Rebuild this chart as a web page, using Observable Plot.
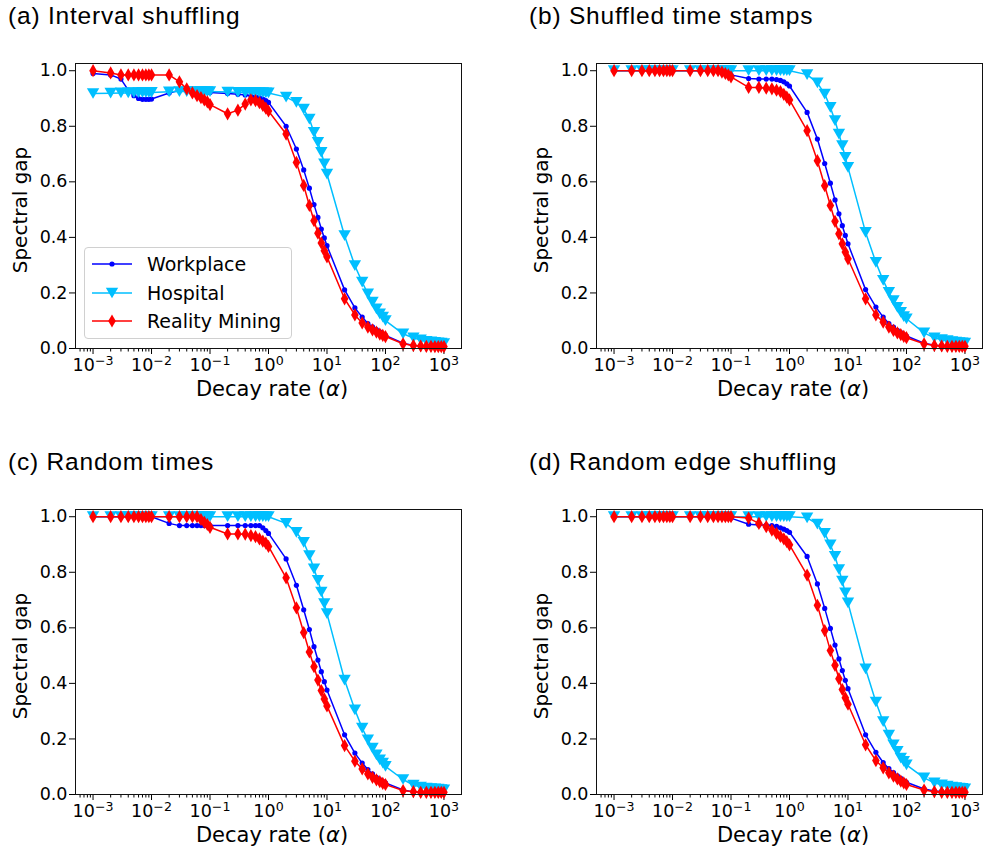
<!DOCTYPE html>
<html>
<head>
<meta charset="utf-8">
<script src="https://cdn.jsdelivr.net/npm/d3@7"></script>
<script src="https://cdn.jsdelivr.net/npm/@observablehq/plot@0.6"></script>
<style>
  html, body { margin: 0; padding: 0; background: #fff; }
  #fig { position: relative; width: 988px; height: 855px; overflow: hidden; background: #fff; }
  .panel { position: absolute; }
  .panel svg { max-width: none !important; }
  .title { position: absolute; font-family: "Liberation Sans", Arial, sans-serif; font-size: 24.5px; letter-spacing: 0.8px; line-height: 24px; white-space: nowrap; color: #000; }
  .xlab { position: absolute; font-family: "DejaVu Sans", sans-serif; font-size: 21px; line-height: 1; white-space: nowrap; transform: translateX(-50%); color: #000; }
  .ylab { position: absolute; font-family: "DejaVu Sans", sans-serif; font-size: 20px; line-height: 1; white-space: nowrap; transform: translate(-50%, -50%) rotate(-90deg); color: #000; }
  .legend { position: absolute; border: 1px solid #d0d0d0; border-radius: 4px; background: rgba(255,255,255,0.85); font-family: "DejaVu Sans", sans-serif; font-size: 19px; color: #000; box-sizing: border-box; }
  .legend .row { position: absolute; left: 0; height: 20px; display: flex; align-items: center; white-space: nowrap; }
  .legend .row svg { margin-left: 7px; margin-right: 15px; }
</style>
</head>
<body>
<div id="fig"></div>
<script>
// ---------- data ----------
const alpha = [
  0.001, 0.002, 0.003, 0.004, 0.005, 0.006, 0.007, 0.008, 0.009,
  0.01, 0.02, 0.03, 0.04, 0.05, 0.06, 0.07, 0.08, 0.09,
  0.1, 0.2, 0.3, 0.4, 0.5, 0.6, 0.7, 0.8, 0.9,
  1, 2, 3, 4, 5, 6, 7, 8, 9,
  10, 20, 30, 40, 50, 60, 70, 80, 90,
  100, 200, 300, 400, 500, 600, 700, 800, 900,
  1000
];

const seriesNames = ["Workplace", "Hospital", "Reality Mining"];
const seriesColors = ["#0000ff", "#00bfff", "#ff0000"];

const panelTitles = ["(a) Interval shuffling", "(b) Shuffled time stamps", "(c) Random times", "(d) Random edge shuffling"];

// (a) Interval shuffling
const workplaceA = [
  0.990, 0.985, 0.970, 0.930, 0.910, 0.900, 0.897, 0.897, 0.897,
  0.898, 0.920, 0.930, 0.930, 0.929, 0.928, 0.927, 0.926, 0.924,
  0.922, 0.918, 0.915, 0.913, 0.910, 0.907, 0.903, 0.898, 0.892,
  0.886, 0.800, 0.718, 0.643, 0.577, 0.518, 0.472, 0.430, 0.398,
  0.370, 0.211, 0.146, 0.113, 0.090, 0.078, 0.068, 0.060, 0.053,
  0.047, 0.019, 0.011, 0.009, 0.008, 0.008, 0.007, 0.007, 0.007,
  0.007
];
const hospitalA = [
  0.918, 0.919, 0.920, 0.920, 0.921, 0.921, 0.922, 0.922, 0.922,
  0.922, 0.924, 0.925, 0.925, 0.925, 0.925, 0.925, 0.925, 0.925,
  0.925, 0.923, 0.922, 0.922, 0.922, 0.922, 0.921, 0.921, 0.920,
  0.920, 0.905, 0.886, 0.862, 0.826, 0.778, 0.742, 0.706, 0.665,
  0.628, 0.406, 0.298, 0.239, 0.197, 0.167, 0.143, 0.125, 0.113,
  0.100, 0.053, 0.038, 0.031, 0.026, 0.024, 0.022, 0.020, 0.019,
  0.018
];
const realityA = [
  1.000, 0.992, 0.985, 0.985, 0.985, 0.985, 0.985, 0.985, 0.985,
  0.985, 0.985, 0.960, 0.935, 0.920, 0.910, 0.903, 0.895, 0.888,
  0.878, 0.845, 0.858, 0.880, 0.895, 0.892, 0.885, 0.875, 0.865,
  0.855, 0.772, 0.670, 0.587, 0.515, 0.460, 0.415, 0.380, 0.352,
  0.330, 0.179, 0.121, 0.092, 0.077, 0.067, 0.059, 0.052, 0.047,
  0.043, 0.017, 0.011, 0.009, 0.008, 0.008, 0.007, 0.007, 0.007,
  0.007
];

// (b) Shuffled time stamps
const workplaceB = [
  1.000, 1.000, 1.000, 1.000, 1.000, 1.000, 1.000, 1.000, 1.000,
  1.000, 1.000, 1.000, 1.000, 1.000, 1.000, 0.998, 0.995, 0.990,
  0.985, 0.972, 0.970, 0.970, 0.970, 0.968, 0.965, 0.960, 0.953,
  0.945, 0.850, 0.754, 0.666, 0.595, 0.535, 0.485, 0.442, 0.407,
  0.377, 0.212, 0.149, 0.113, 0.090, 0.077, 0.065, 0.057, 0.050,
  0.045, 0.019, 0.012, 0.010, 0.009, 0.008, 0.008, 0.008, 0.008,
  0.008
];
const hospitalB = [
  1.000, 1.000, 1.000, 1.000, 1.000, 1.000, 1.000, 1.000, 1.000,
  1.000, 1.000, 1.000, 1.000, 1.000, 1.000, 1.000, 1.000, 1.000,
  1.000, 1.000, 1.000, 1.000, 1.000, 1.000, 1.000, 1.000, 1.000,
  1.000, 0.986, 0.956, 0.916, 0.868, 0.820, 0.772, 0.730, 0.688,
  0.652, 0.418, 0.310, 0.245, 0.202, 0.172, 0.148, 0.130, 0.115,
  0.107, 0.056, 0.038, 0.032, 0.028, 0.025, 0.023, 0.021, 0.020,
  0.019
];
const realityB = [
  1.000, 1.000, 1.000, 1.000, 1.000, 1.000, 1.000, 1.000, 1.000,
  1.000, 1.000, 1.000, 1.000, 1.000, 1.000, 0.995, 0.990, 0.985,
  0.978, 0.940, 0.940, 0.937, 0.935, 0.930, 0.925, 0.915, 0.905,
  0.895, 0.784, 0.676, 0.586, 0.515, 0.458, 0.413, 0.377, 0.347,
  0.323, 0.179, 0.121, 0.095, 0.077, 0.065, 0.056, 0.050, 0.044,
  0.039, 0.017, 0.011, 0.009, 0.008, 0.008, 0.008, 0.008, 0.008,
  0.008
];

// (c) Random times
const workplaceC = [
  1.000, 1.000, 1.000, 1.000, 1.000, 1.000, 1.000, 1.000, 1.000,
  1.000, 0.976, 0.968, 0.968, 0.968, 0.968, 0.968, 0.968, 0.968,
  0.968, 0.968, 0.968, 0.968, 0.968, 0.968, 0.968, 0.960, 0.950,
  0.940, 0.848, 0.753, 0.665, 0.594, 0.532, 0.484, 0.442, 0.406,
  0.376, 0.215, 0.149, 0.113, 0.090, 0.074, 0.062, 0.054, 0.047,
  0.042, 0.016, 0.009, 0.007, 0.007, 0.007, 0.007, 0.007, 0.007,
  0.007
];
const hospitalC = [
  1.000, 1.000, 1.000, 1.000, 1.000, 1.000, 1.000, 1.000, 1.000,
  1.000, 1.000, 1.000, 1.000, 1.000, 1.000, 1.000, 1.000, 1.000,
  1.000, 1.000, 1.000, 1.000, 1.000, 1.000, 1.000, 1.000, 1.000,
  1.000, 0.976, 0.944, 0.908, 0.860, 0.812, 0.771, 0.729, 0.687,
  0.651, 0.412, 0.305, 0.239, 0.197, 0.167, 0.143, 0.125, 0.113,
  0.101, 0.054, 0.034, 0.027, 0.023, 0.021, 0.020, 0.019, 0.018,
  0.017
];
const realityC = [
  1.000, 1.000, 1.000, 1.000, 1.000, 1.000, 1.000, 1.000, 1.000,
  1.000, 1.000, 1.000, 1.000, 1.000, 1.000, 0.990, 0.980, 0.972,
  0.962, 0.938, 0.938, 0.937, 0.932, 0.928, 0.920, 0.912, 0.905,
  0.893, 0.780, 0.672, 0.583, 0.513, 0.460, 0.412, 0.374, 0.344,
  0.319, 0.176, 0.120, 0.092, 0.074, 0.062, 0.053, 0.046, 0.040,
  0.036, 0.014, 0.010, 0.008, 0.008, 0.008, 0.008, 0.008, 0.008,
  0.008
];

// (d) Random edge shuffling
const workplaceD = [
  1.000, 1.000, 1.000, 1.000, 1.000, 1.000, 1.000, 1.000, 1.000,
  1.000, 1.000, 1.000, 1.000, 1.000, 1.000, 1.000, 1.000, 1.000,
  0.995, 0.973, 0.970, 0.970, 0.968, 0.965, 0.960, 0.955, 0.950,
  0.944, 0.857, 0.758, 0.670, 0.598, 0.538, 0.488, 0.446, 0.411,
  0.381, 0.215, 0.152, 0.115, 0.093, 0.079, 0.067, 0.058, 0.050,
  0.044, 0.020, 0.013, 0.011, 0.010, 0.010, 0.010, 0.010, 0.010,
  0.010
];
const hospitalD = [
  1.000, 1.000, 1.000, 1.000, 1.000, 1.000, 1.000, 1.000, 1.000,
  1.000, 1.000, 1.000, 1.000, 1.000, 1.000, 1.000, 1.000, 1.000,
  1.000, 1.000, 1.000, 1.000, 1.000, 1.000, 1.000, 1.000, 1.000,
  1.000, 0.996, 0.973, 0.940, 0.899, 0.857, 0.810, 0.768, 0.726,
  0.690, 0.452, 0.333, 0.262, 0.214, 0.179, 0.155, 0.131, 0.119,
  0.107, 0.060, 0.042, 0.035, 0.030, 0.027, 0.025, 0.023, 0.022,
  0.020
];
const realityD = [
  1.000, 1.000, 1.000, 1.000, 1.000, 1.000, 1.000, 1.000, 1.000,
  1.000, 1.000, 1.000, 1.000, 1.000, 1.000, 1.000, 1.000, 1.000,
  1.000, 0.995, 0.976, 0.964, 0.952, 0.940, 0.929, 0.920, 0.910,
  0.899, 0.790, 0.681, 0.590, 0.518, 0.465, 0.417, 0.378, 0.348,
  0.325, 0.179, 0.122, 0.096, 0.078, 0.066, 0.056, 0.048, 0.042,
  0.036, 0.016, 0.010, 0.008, 0.008, 0.008, 0.008, 0.008, 0.008,
  0.008
];

// axis ticks
const xMajorTicks = [0.001, 0.01, 0.1, 1, 10, 100, 1000];
const xMajorBase = "10";
const xMajorExp = ["\u22123", "\u22122", "\u22121", "0", "1", "2", "3"];
const xMinorTicks = [
  0.0006, 0.0007, 0.0008, 0.0009,
  0.002, 0.003, 0.004, 0.005, 0.006, 0.007, 0.008, 0.009,
  0.02, 0.03, 0.04, 0.05, 0.06, 0.07, 0.08, 0.09,
  0.2, 0.3, 0.4, 0.5, 0.6, 0.7, 0.8, 0.9,
  2, 3, 4, 5, 6, 7, 8, 9,
  20, 30, 40, 50, 60, 70, 80, 90,
  200, 300, 400, 500, 600, 700, 800, 900
];
const yTicks = [0, 0.2, 0.4, 0.6, 0.8, 1.0];
const xLabel = "Decay rate";
const yLabel = "Spectral gap";

// ---------- symbols ----------
const triangleDown = {
  draw(ctx, size) {
    const y = Math.sqrt(size / (Math.sqrt(3) * 3));
    const s3 = Math.sqrt(3);
    ctx.moveTo(0, 1.5 * y);
    ctx.lineTo(-s3 * y, -1.5 * y);
    ctx.lineTo(s3 * y, -1.5 * y);
    ctx.closePath();
  }
};
const seriesSymbols = ["circle", triangleDown, "diamond"];
const seriesR = [2.6, 4.6, 4.0];

// ---------- layout ----------
const W = 494, H = 400;
const M = {left: 75, right: 33, top: 63, bottom: 52};
const panelPos = [[0, 0], [521, 0], [0, 446], [521, 446]];
const panelData = [
  [workplaceA, hospitalA, realityA],
  [workplaceB, hospitalB, realityB],
  [workplaceC, hospitalC, realityC],
  [workplaceD, hospitalD, realityD]
];

const fig = document.getElementById("fig");

function makePanel(series) {
  const marks = [
    Plot.axisX({ticks: xMinorTicks, tickSize: 3.5, tickFormat: () => "", label: null, strokeWidth: 1}),
    Plot.axisX({ticks: xMajorTicks, tickSize: 6, tickPadding: 4, label: null,
      tickFormat: d => xMajorBase + "^" + xMajorExp[xMajorTicks.indexOf(d)], fontSize: 17.5, strokeWidth: 1}),
    Plot.axisY({ticks: yTicks, tickSize: 6, tickPadding: 2, label: null,
      tickFormat: d3.format(".1f"), fontSize: 17.5, strokeWidth: 1})
  ];
  series.forEach((vals, k) => {
    const rows = alpha.map((a, i) => ({alpha: a, value: vals[i]}));
    marks.push(Plot.line(rows, {x: "alpha", y: "value", stroke: seriesColors[k], strokeWidth: 1.5}));
    marks.push(Plot.dot(rows, {x: "alpha", y: "value", fill: seriesColors[k], stroke: null,
      symbol: seriesSymbols[k], r: seriesR[k]}));
  });
  marks.push(Plot.frame({stroke: "#111", strokeWidth: 1}));
  const svg = Plot.plot({
    width: W, height: H,
    marginLeft: M.left, marginRight: M.right, marginTop: M.top, marginBottom: M.bottom,
    style: {fontFamily: "'DejaVu Sans', sans-serif", fontSize: "17.5px", color: "#000", background: "transparent", overflow: "visible", maxWidth: "none"},
    x: {type: "log", domain: [Math.pow(10, -3.3), Math.pow(10, 3.3)], axis: null},
    y: {domain: [0, 1.026], axis: null},
    marks
  });
  // render the power-of-ten labels with a raised exponent
  d3.select(svg).selectAll("text").each(function () {
    const t = this.textContent;
    if (!t || t.indexOf("^") < 0) return;
    const [base, exp] = t.split("^");
    const sel = d3.select(this);
    sel.text(null);
    sel.append("tspan").text(base);
    sel.append("tspan").attr("dy", "-0.45em").attr("font-size", "0.72em").text(exp);
  });
  return svg;
}

panelData.forEach((series, p) => {
  const [px, py] = panelPos[p];
  const wrap = document.createElement("div");
  wrap.className = "panel";
  wrap.style.left = px + "px";
  wrap.style.top = py + "px";
  wrap.style.width = W + "px";
  wrap.style.height = H + "px";
  wrap.appendChild(makePanel(series));
  fig.appendChild(wrap);

  const t = document.createElement("div");
  t.className = "title";
  t.style.left = (px + 8) + "px";
  t.style.top = (py + 4) + "px";
  t.textContent = panelTitles[p];
  fig.appendChild(t);

  const xl = document.createElement("div");
  xl.className = "xlab";
  xl.style.left = (px + 272) + "px";
  xl.style.top = (py + 379) + "px";
  xl.innerHTML = xLabel + " (<i>\u03B1</i>)";
  fig.appendChild(xl);

  const yl = document.createElement("div");
  yl.className = "ylab";
  yl.style.left = (px + 20) + "px";
  yl.style.top = (py + 210) + "px";
  yl.textContent = yLabel;
  fig.appendChild(yl);
});

// legend in panel (a)
const legend = document.createElement("div");
legend.className = "legend";
legend.style.left = "84px";
legend.style.top = "247px";
legend.style.width = "208px";
legend.style.height = "92px";
seriesNames.forEach((name, k) => {
  const row = document.createElement("div");
  row.className = "row";
  row.style.top = (6 + k * 28.7) + "px";
  const svg = d3.create("svg").attr("width", 40).attr("height", 20);
  svg.append("line").attr("x1", 0).attr("x2", 40).attr("y1", 10).attr("y2", 10)
    .attr("stroke", seriesColors[k]).attr("stroke-width", 1.5);
  const sym = typeof seriesSymbols[k] === "string"
    ? ({circle: d3.symbolCircle, diamond: d3.symbolDiamond})[seriesSymbols[k]]
    : seriesSymbols[k];
  svg.append("path").attr("transform", "translate(20,10)")
    .attr("d", d3.symbol(sym, Math.PI * seriesR[k] * seriesR[k])())
    .attr("fill", seriesColors[k]);
  row.appendChild(svg.node());
  const span = document.createElement("span");
  span.textContent = name;
  row.appendChild(span);
  legend.appendChild(row);
});
fig.appendChild(legend);
</script>
</body>
</html>
